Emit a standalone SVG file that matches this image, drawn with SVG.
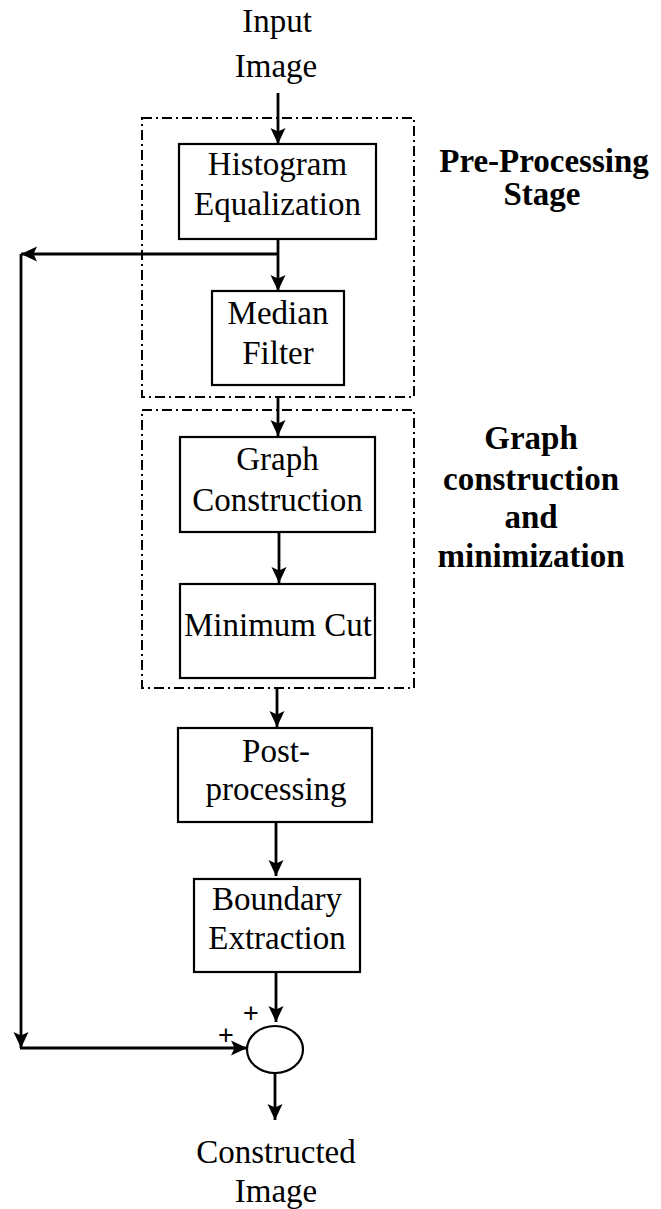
<svg xmlns="http://www.w3.org/2000/svg" width="661" height="1209" viewBox="0 0 661 1209">
<defs>
<marker id="ah" markerUnits="userSpaceOnUse" markerWidth="18" markerHeight="18" viewBox="0 0 18 18" refX="17" refY="9" orient="auto">
<path d="M1,1.5 L17,9 L1,16.5 L4.5,9 Z" fill="#000"/>
</marker>
<style>
.box{fill:#fff;stroke:#000;stroke-width:2.2}
.grp{fill:none;stroke:#000;stroke-width:2;stroke-dasharray:10 4 2 4}
.t{font-family:"Liberation Serif","Times New Roman",serif;font-size:33px;text-anchor:middle;fill:#000}
.b{font-family:"Liberation Serif","Times New Roman",serif;font-size:33px;font-weight:bold;text-anchor:middle;fill:#000}
.p{font-family:"Liberation Sans",Arial,sans-serif;font-size:27px;text-anchor:middle;fill:#000}
.c{fill:none;stroke:#000;stroke-width:2.8}
</style>
</defs>
<rect width="661" height="1209" fill="#fff"/>

<g id="input-label">
<text class="t" x="277" y="32">Input</text>
<text class="t" x="276" y="77">Image</text>
</g>

<g id="preprocessing-stage">
<rect class="grp" x="142" y="118" width="272" height="279"/>
<text class="b" x="544" y="172">Pre-Processing</text>
<text class="b" x="542" y="205">Stage</text>
</g>

<g id="graph-stage">
<rect class="grp" x="142" y="410" width="272" height="278"/>
<text class="b" x="531" y="449">Graph</text>
<text class="b" x="531" y="490">construction</text>
<text class="b" x="531" y="528">and</text>
<text class="b" x="531" y="567">minimization</text>
</g>

<g id="histogram">
<rect class="box" x="179" y="144" width="197" height="95"/>
<text class="t" x="277.5" y="175">Histogram</text>
<text class="t" x="277.5" y="215">Equalization</text>
</g>

<g id="median">
<rect class="box" x="212" y="291" width="132" height="94"/>
<text class="t" x="278" y="324">Median</text>
<text class="t" x="278" y="364">Filter</text>
</g>

<g id="graph-construction">
<rect class="box" x="180" y="437" width="195" height="95"/>
<text class="t" x="277.5" y="470">Graph</text>
<text class="t" x="277.5" y="511">Construction</text>
</g>

<g id="minimum-cut">
<rect class="box" x="180" y="584" width="195" height="94"/>
<text class="t" x="278" y="636">Minimum Cut</text>
</g>

<g id="post-processing">
<rect class="box" x="178" y="728" width="194" height="94"/>
<text class="t" x="276" y="762">Post-</text>
<text class="t" x="276" y="800">processing</text>
</g>

<g id="boundary">
<rect class="box" x="194" y="879" width="166" height="93"/>
<text class="t" x="277" y="910">Boundary</text>
<text class="t" x="277" y="949">Extraction</text>
</g>

<g id="sum">
<ellipse cx="275" cy="1049.5" rx="28" ry="23.5" fill="#fff" stroke="#000" stroke-width="2.2"/>
<text class="p" x="251" y="1022">+</text>
<text class="p" x="226" y="1044">+</text>
</g>

<g id="output-label">
<text class="t" x="276" y="1163">Constructed</text>
<text class="t" x="276" y="1202">Image</text>
</g>

<g id="connectors">
<line class="c" x1="278" y1="93" x2="278" y2="144" marker-end="url(#ah)"/>
<line class="c" x1="278" y1="239" x2="278" y2="291" marker-end="url(#ah)"/>
<line class="c" x1="278" y1="254" x2="21" y2="254" marker-end="url(#ah)"/>
<line class="c" x1="21" y1="254" x2="21" y2="1048" marker-end="url(#ah)"/>
<line class="c" x1="20" y1="1048" x2="247" y2="1048" marker-end="url(#ah)"/>
<line class="c" x1="278" y1="397" x2="278" y2="436" marker-end="url(#ah)"/>
<line class="c" x1="279" y1="532" x2="279" y2="583" marker-end="url(#ah)"/>
<line class="c" x1="277" y1="688" x2="277" y2="727" marker-end="url(#ah)"/>
<line class="c" x1="276" y1="822" x2="276" y2="876" marker-end="url(#ah)"/>
<line class="c" x1="276" y1="972" x2="276" y2="1022" marker-end="url(#ah)"/>
<line class="c" x1="275" y1="1073" x2="275" y2="1120" marker-end="url(#ah)"/>
</g>
</svg>
